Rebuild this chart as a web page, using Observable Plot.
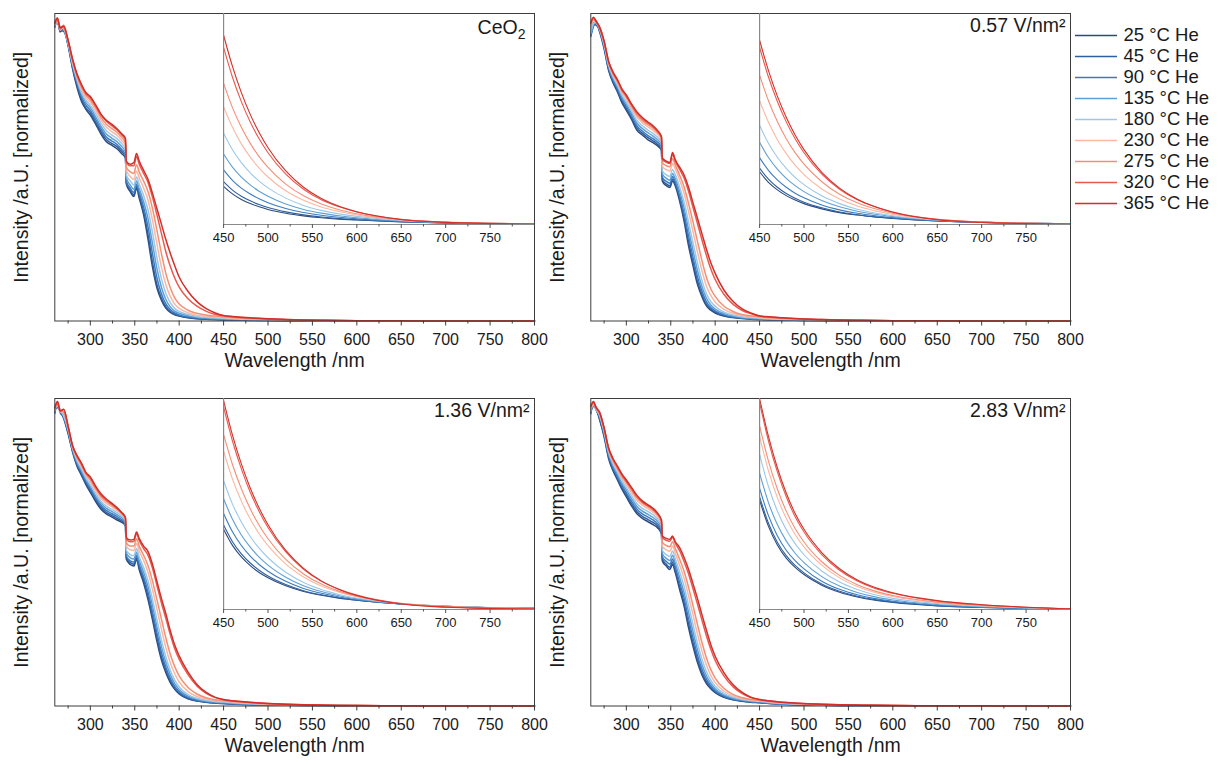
<!DOCTYPE html>
<html><head><meta charset="utf-8">
<script src="https://cdn.jsdelivr.net/npm/d3@7"></script>
<script src="https://cdn.jsdelivr.net/npm/@observablehq/plot@0.6"></script>
<style>
body{margin:0;background:#fff;font-family:"Liberation Sans",Arial,sans-serif;}
#root{position:relative;width:1218px;height:764px;overflow:hidden;background:#fff;}
</style></head><body><div id="root"></div>
<script>
// ---- series ----
const temps = ["25 °C He","45 °C He","90 °C He","135 °C He","180 °C He","230 °C He","275 °C He","320 °C He","365 °C He"];
const colors = ["#2c4a7c","#2e5fa0","#3b7cc0","#5e9fd6","#9cc8ea","#f9b9a3","#f48f76","#e65a4d","#d32f2a"];
// ---- wavelength grids (nm) ----
const wlN = [260,263,266,270,275,280,285,290,295,300,306,312,318,324,330,335,339.5];
const wlS = [340.5,345,349,352,355,360,365,370,375,380,385,390,395,400,410,420,430,440];
const wlT = [450,460,470,480,490,500,520,540,560,580,600,650,700,750,800];
// ---- panels ----
const panelLabels = ["CeO2","0.57 V/nm²","1.36 V/nm²","2.83 V/nm²"];
const insetMax = [2.0,1.9,2.1,2.1];
const mainTicks = [300,350,400,450,500,550,600,650,700,750,800];
const mainMinor = [275,325,375,425,475,525,575,625,675,725,775];
const insetTicks = [450,500,550,600,650,700,750];
const insetMinor = [475,525,575,625,675,725,775];

// intensity [% normalized], rows = temps, each [noise region, edge region, tail]
const ceo2 = [
 [[96.0,97.5,94.0,95.0,89.5,82.0,76.0,71.5,68.8,67.0,64.0,60.8,58.3,57.2,56.0,54.5,53.0],[44.5,42.0,40.5,43.2,40.0,34.5,26.5,17.5,10.7,6.8,4.2,2.8,2.0,1.6,1.05,0.75,0.57,0.45],[.362,.29,.237,.198,.168,.143,.107,.082,.064,.051,.042,.025,.014,.009,.005]],
 [[95.5,97.8,94.5,94.2,90.0,82.5,76.8,72.2,69.3,67.8,64.6,61.6,59.0,57.8,56.7,55.2,53.5],[45.0,42.5,41.0,43.8,40.8,35.5,28.0,19.0,11.8,7.5,4.7,3.1,2.25,1.75,1.15,0.83,0.63,0.5],[.406,.326,.268,.224,.189,.161,.12,.091,.071,.056,.045,.026,.015,.009,.005]],
 [[96.5,97.0,95.2,94.8,89.8,83.0,77.5,73.0,70.2,68.5,65.5,62.4,59.8,58.6,57.4,55.9,54.0],[45.5,43.2,41.8,44.5,41.8,37.0,30.5,21.8,14.0,8.9,5.6,3.7,2.6,2.0,1.35,0.98,0.74,0.63],[.518,.419,.345,.289,.243,.207,.152,.113,.087,.068,.053,.03,.017,.01,.006]],
 [[95.8,98.0,94.8,95.5,90.5,83.3,78.0,73.8,71.0,69.4,66.4,63.3,60.8,59.5,58.3,56.8,55.0],[46.5,44.2,42.8,45.5,43.0,38.8,33.2,25.2,17.0,11.0,7.0,4.6,3.2,2.5,1.7,1.22,0.95,0.8],[.668,.544,.449,.375,.315,.267,.194,.143,.108,.083,.064,.034,.019,.011,.006]],
 [[96.2,97.2,95.5,95.0,90.2,83.8,78.6,74.5,71.8,70.2,67.4,64.3,61.9,60.5,59.3,57.8,56.0],[47.5,45.5,44.2,46.8,44.5,40.8,36.0,28.8,20.5,13.8,9.0,6.0,4.1,3.1,2.1,1.5,1.2,1.03],[.864,.708,.587,.49,.411,.347,.25,.181,.134,.101,.077,.039,.021,.012,.006]],
 [[97.0,98.2,94.6,95.8,91.0,84.2,79.2,75.3,72.6,71.1,68.4,65.3,63.0,61.6,60.4,58.8,57.0],[49.0,47.0,46.0,48.8,46.5,43.2,39.2,32.8,25.0,17.5,11.8,8.0,5.5,4.1,2.7,1.9,1.55,1.33],[1.116,.921,.764,.638,.535,.45,.32,.23,.166,.123,.09,.044,.022,.012,.007]],
 [[96.4,97.6,95.8,95.2,90.6,84.6,79.6,76.0,73.4,71.9,69.3,66.2,64.0,62.6,61.4,59.8,58.0],[50.0,48.5,48.0,50.8,48.5,45.5,42.0,36.5,29.5,22.0,15.5,10.8,7.5,5.5,3.5,2.5,1.95,1.6],[1.338,1.108,.922,.769,.644,.541,.383,.272,.194,.14,.102,.045,.023,.012,.005]],
 [[97.2,98.6,95.0,96.2,91.4,85.0,80.0,76.6,74.0,72.6,70.0,67.0,65.0,63.5,62.2,60.6,59.0],[51.5,50.5,50.5,53.5,51.0,48.0,45.0,40.2,34.5,28.5,22.5,17.8,14.0,11.0,7.2,4.8,3.2,2.2],[1.678,1.396,1.165,.972,.812,.68,.477,.334,.235,.168,.119,.049,.022,.012,.005]],
 [[96.8,98.4,95.4,95.8,91.2,85.2,80.4,77.0,74.3,73.0,70.3,67.3,65.3,64.0,62.5,61.0,59.5],[52.0,51.0,51.5,54.5,52.0,49.0,46.0,41.5,36.5,31.5,26.5,22.0,18.0,14.3,9.6,6.3,4.1,2.7],[1.794,1.498,1.25,1.044,.872,.728,.508,.353,.246,.172,.12,.047,.02,.009,.004]]
];
const v057 = [
 [[93.0,96.0,97.0,94.0,88.5,81.5,77.5,74.5,71.0,68.5,65.5,62.0,60.5,59.0,58.0,57.0,55.5],[45.5,44.0,43.4,45.5,44.0,39.0,32.5,24.5,18.0,12.0,8.0,5.0,3.5,2.6,1.6,1.1,0.8,0.6],[.475,.38,.312,.26,.22,.188,.141,.107,.085,.067,.055,.032,.019,.011,.007]],
 [[93.8,96.5,96.2,94.5,89.0,82.0,78.0,75.0,71.6,69.1,66.1,62.7,61.1,59.7,58.6,57.5,56.0],[46.0,44.6,44.0,46.2,44.6,39.8,33.6,25.8,19.2,13.0,8.7,5.5,3.9,2.9,1.75,1.2,0.86,0.64],[.507,.408,.335,.279,.236,.201,.15,.113,.088,.069,.056,.032,.019,.011,.007]],
 [[92.5,95.8,97.5,94.2,89.4,82.4,78.5,75.6,72.2,69.8,66.8,63.4,61.8,60.4,59.3,58.2,56.6],[46.8,45.4,44.8,47.0,45.4,40.8,35.0,27.6,20.8,14.5,9.8,6.3,4.4,3.3,2.0,1.35,0.97,0.74],[.602,.487,.401,.335,.282,.24,.176,.132,.101,.079,.062,.035,.02,.011,.007]],
 [[94.2,97.0,96.8,94.8,89.7,82.9,79.0,76.2,72.9,70.6,67.5,64.3,62.6,61.3,60.1,59.0,57.4],[47.8,46.4,45.8,48.0,46.4,42.2,36.8,29.8,23.0,16.5,11.3,7.5,5.2,3.9,2.4,1.6,1.15,0.9],[.741,.603,.498,.416,.35,.296,.216,.159,.12,.092,.071,.038,.021,.012,.007]],
 [[93.5,96.6,97.4,95.0,90.0,83.3,79.5,76.8,73.6,71.3,68.3,65.2,63.5,62.2,61.0,59.8,58.2],[48.8,47.5,47.0,49.3,47.6,43.6,38.7,32.2,25.5,19.0,13.3,9.0,6.4,4.8,2.9,1.95,1.4,1.1],[.893,.731,.606,.506,.425,.359,.258,.188,.138,.104,.079,.04,.021,.013,.006]],
 [[95.5,97.8,97.0,95.2,90.4,83.8,80.0,77.4,74.3,72.2,69.2,66.3,64.5,63.2,62.0,60.7,59.0],[50.3,49.2,48.8,51.2,49.5,45.8,41.5,35.6,29.2,22.5,16.5,11.5,8.3,6.2,3.8,2.5,1.75,1.4],[1.115,.92,.764,.638,.534,.449,.32,.23,.166,.123,.09,.043,.022,.012,.007]],
 [[96.0,98.3,97.6,95.0,90.7,84.1,80.4,77.9,74.8,72.8,69.8,67.0,65.2,63.9,62.7,61.3,59.5],[51.5,50.5,50.2,52.8,50.8,47.4,43.6,38.3,32.3,26.0,19.8,14.3,10.5,8.0,4.8,3.1,2.1,1.7],[1.345,1.114,.927,.773,.647,.543,.385,.273,.195,.141,.102,.046,.023,.012,.005]],
 [[96.8,98.5,97.2,95.6,90.9,84.4,80.7,78.2,75.2,73.2,70.2,67.6,65.8,64.4,63.2,61.7,59.8],[52.6,51.6,51.2,54.2,52.0,49.3,46.5,42.2,37.0,31.8,26.5,21.5,17.0,13.5,8.6,5.5,3.5,2.4],[1.596,1.328,1.108,.924,.772,.646,.453,.318,.223,.16,.113,.046,.021,.011,.005]],
 [[97.0,98.8,97.5,95.5,91.0,84.5,81.0,78.5,75.5,73.5,70.5,68.0,66.2,64.8,63.5,62.0,60.0],[53.0,52.0,51.5,54.8,52.5,50.0,47.5,43.5,38.5,33.5,28.5,23.5,19.0,15.5,10.0,6.4,4.0,2.6],[1.659,1.385,1.156,.966,.806,.674,.469,.327,.227,.159,.111,.043,.018,.008,.003]]
];
const v136 = [
 [[96.0,97.5,96.0,93.5,88.5,82.6,78.0,75.0,72.0,69.5,66.5,64.0,62.5,61.5,60.5,59.8,58.6],[47.7,46.0,45.5,47.7,44.4,40.0,34.5,28.0,21.0,15.0,10.8,7.6,5.4,3.9,2.3,1.6,1.2,0.95],[.798,.638,.523,.437,.369,.316,.236,.18,.142,.113,.092,.054,.032,.019,.011]],
 [[95.2,98.2,95.4,94.0,88.9,83.0,78.5,75.5,72.6,70.1,67.1,64.6,63.0,62.0,61.0,60.2,59.0],[48.2,46.6,46.1,48.2,45.2,41.0,35.6,29.2,22.3,16.1,11.6,8.2,5.8,4.2,2.5,1.7,1.28,1.0],[.84,.675,.554,.463,.391,.333,.248,.187,.146,.115,.092,.054,.031,.018,.011]],
 [[96.5,97.0,96.3,93.8,89.3,83.3,78.9,76.0,73.1,70.7,67.7,65.2,63.6,62.6,61.6,60.7,59.4],[48.8,47.2,46.8,49.0,46.0,42.0,37.0,30.6,23.8,17.5,12.7,9.0,6.4,4.7,2.8,1.9,1.42,1.13],[.956,.773,.637,.532,.448,.381,.28,.209,.161,.125,.098,.055,.032,.018,.011]],
 [[95.6,98.5,95.8,94.6,89.6,83.6,79.4,76.6,73.7,71.4,68.4,65.9,64.3,63.3,62.2,61.3,59.9],[49.7,48.2,47.8,50.0,47.3,43.5,38.8,32.6,25.8,19.4,14.2,10.2,7.3,5.4,3.2,2.2,1.62,1.3],[1.103,.898,.741,.62,.521,.441,.321,.236,.179,.137,.106,.056,.031,.018,.01]],
 [[96.8,97.6,96.6,94.3,90.0,83.9,79.9,77.2,74.3,72.1,69.1,66.6,65.0,64.0,62.9,61.9,60.3],[50.6,49.2,48.9,51.2,48.5,45.0,40.6,34.6,28.0,21.5,16.0,11.6,8.4,6.2,3.7,2.5,1.85,1.5],[1.281,1.049,.87,.726,.61,.515,.37,.269,.199,.15,.114,.058,.031,.018,.009]],
 [[96.2,98.8,95.6,95.8,90.4,84.2,80.5,77.8,75.0,73.0,70.0,67.5,65.9,64.8,63.6,62.4,60.8],[52.0,50.8,50.6,52.9,50.5,47.3,43.4,37.8,31.5,25.0,19.0,14.1,10.5,7.8,4.7,3.1,2.3,1.85],[1.575,1.299,1.079,.901,.754,.635,.452,.324,.235,.173,.128,.061,.032,.017,.009]],
 [[97.3,98.2,96.4,95.5,90.6,84.4,80.9,78.3,75.4,73.6,70.7,68.1,66.5,65.3,64.0,62.7,61.0],[53.0,52.0,52.0,54.4,52.0,49.0,45.6,40.6,34.6,28.3,22.2,16.8,12.8,9.8,6.0,3.9,2.7,2.05],[1.743,1.443,1.201,1.002,.838,.704,.498,.354,.253,.183,.132,.059,.03,.016,.007]],
 [[96.6,99.0,95.8,96.4,90.9,84.6,81.2,78.7,75.8,74.1,71.1,68.6,67.0,65.7,64.3,62.9,61.2],[54.2,53.4,53.6,56.0,53.8,51.2,49.0,44.8,39.2,33.6,28.5,23.2,18.6,15.2,10.2,6.5,4.2,2.8],[2.016,1.677,1.399,1.167,.976,.816,.573,.401,.282,.202,.143,.058,.026,.014,.006]],
 [[97.0,99.0,96.0,96.5,91.0,84.7,81.5,79.0,76.0,74.5,71.5,69.0,67.3,66.0,64.5,63.0,61.3],[54.8,54.0,54.2,56.6,54.5,52.0,50.2,46.0,40.5,35.0,30.0,24.5,19.8,16.3,11.0,7.0,4.5,2.9],[2.079,1.736,1.449,1.21,1.01,.844,.588,.41,.285,.2,.139,.054,.023,.01,.004]]
];
const v283 = [
 [[95.5,98.0,96.5,93.0,87.5,80.5,76.5,73.5,70.5,68.0,65.0,62.5,61.0,60.0,59.0,58.0,56.0],[47.2,45.5,44.4,46.0,43.5,37.9,32.5,25.5,19.5,14.2,10.2,7.4,5.6,4.3,2.8,2.0,1.55,1.25],[1.088,.827,.642,.511,.419,.348,.242,.172,.125,.092,.07,.036,.02,.011,.005]],
 [[96.2,97.4,97.0,93.4,88.0,81.1,77.0,74.1,71.1,68.7,65.7,63.2,61.7,60.7,59.7,58.6,56.6],[47.8,46.1,45.1,46.8,44.3,38.9,33.6,26.8,20.7,15.2,11.0,8.0,6.0,4.6,3.0,2.1,1.62,1.3],[1.121,.859,.67,.536,.439,.365,.254,.182,.132,.098,.074,.038,.021,.011,.006]],
 [[95.0,98.3,96.2,93.9,88.4,81.6,77.6,74.7,71.8,69.4,66.5,64.0,62.5,61.5,60.5,59.3,57.3],[48.5,47.0,46.1,47.8,45.3,40.2,35.1,28.4,22.3,16.6,12.1,8.8,6.6,5.0,3.25,2.3,1.75,1.42],[1.205,.934,.735,.59,.486,.404,.282,.201,.146,.108,.082,.042,.023,.012,.006]],
 [[96.8,97.6,96.9,94.2,88.9,82.2,78.2,75.4,72.5,70.3,67.4,64.9,63.4,62.4,61.3,60.1,58.0],[49.5,48.0,47.3,49.0,46.6,41.8,36.9,30.5,24.3,18.4,13.6,9.9,7.4,5.6,3.6,2.55,1.95,1.58],[1.357,1.064,.845,.683,.56,.467,.327,.233,.17,.126,.095,.05,.027,.014,.005]],
 [[95.8,98.6,96.4,94.6,89.3,82.7,78.8,76.1,73.3,71.1,68.3,65.8,64.3,63.3,62.2,60.9,58.8],[50.6,49.2,48.6,50.4,48.0,43.6,38.9,32.8,26.6,20.5,15.4,11.3,8.5,6.4,4.1,2.9,2.2,1.78],[1.544,1.224,.98,.795,.655,.545,.383,.273,.199,.147,.111,.059,.032,.017,.006]],
 [[97.0,98.0,97.3,94.8,89.7,83.2,79.4,76.8,74.1,72.0,69.3,66.8,65.3,64.2,63.0,61.7,59.5],[52.0,50.8,50.3,52.0,49.8,45.8,41.5,35.8,29.7,23.5,18.0,13.4,10.0,7.6,4.8,3.3,2.45,1.98],[1.722,1.381,1.114,.908,.747,.623,.441,.315,.229,.169,.129,.067,.038,.019,.007]],
 [[96.4,98.9,96.6,95.3,90.0,83.5,79.9,77.3,74.7,72.7,70.1,67.6,66.0,64.9,63.6,62.2,60.0],[53.2,52.2,51.8,53.4,51.3,47.7,43.8,38.6,32.7,26.6,20.8,15.8,11.9,9.1,5.7,3.8,2.75,2.1],[1.827,1.476,1.199,.979,.806,.672,.475,.34,.247,.183,.139,.073,.04,.02,.005]],
 [[97.6,98.6,97.2,95.2,90.3,83.8,80.2,77.7,75.1,73.1,70.6,68.1,66.4,65.2,64.0,62.5,60.3],[54.8,53.9,53.6,54.9,53.0,50.5,47.0,43.0,38.2,33.2,28.0,23.0,18.5,14.8,9.7,6.3,4.1,2.75],[2.058,1.677,1.369,1.122,.924,.772,.547,.391,.284,.21,.161,.084,.047,.023,.006]],
 [[97.5,99.0,97.0,95.5,90.5,84.0,80.5,78.0,75.5,73.5,71.0,68.5,66.7,65.5,64.3,62.8,60.5],[55.3,54.5,54.2,55.3,53.5,51.5,48.3,44.5,39.8,35.0,29.8,24.8,20.0,16.2,10.8,7.0,4.5,2.9],[2.1,1.722,1.411,1.159,.956,.798,.567,.405,.294,.218,.166,.088,.048,.023,.006]]
];

// ---- build ----
const wl = [...wlN, ...wlS, ...wlT];
const panelsData = [ceo2, v057, v136, v283];
function toRecords(rows) {
  const out = [];
  rows.forEach((parts, i) => {
    const vals = parts.flat();
    if (vals.length !== wl.length) throw new Error("row length " + vals.length + " for " + temps[i]);
    vals.forEach((v, j) => out.push({w: wl[j], v, s: temps[i]}));
  });
  return out;
}

const root = document.getElementById("root");
const FONT = "'Liberation Sans', Arial, Helvetica, sans-serif";
const W = 545, H = 380, mL = 54.3, mR = 11, mT = 13, mB = 59.5;
const insetBottomY = 224;
const insetLeft = mL + (450 - 260) / (800 - 260) * (W - mL - mR);
const svgStyle = {background: "transparent", overflow: "visible", fontFamily: FONT, color: "#1a1a1a"};
const colorScale = {domain: temps, range: colors};

function place(el, left, top) {
  el.style.position = "absolute";
  el.style.left = left + "px";
  el.style.top = top + "px";
  root.appendChild(el);
}

function drawPanel(p, left, top) {
  const data = toRecords(panelsData[p]);
  const main = Plot.plot({
    width: W, height: H, marginLeft: mL, marginRight: mR, marginTop: mT, marginBottom: mB,
    style: {...svgStyle, fontSize: "16px"},
    x: {domain: [260, 800]},
    y: {domain: [0, 100], axis: null},
    color: colorScale,
    marks: [
      Plot.line(data, {x: "w", y: "v", z: "s", stroke: "s", strokeWidth: 1.5, curve: "monotone-x"}),
      Plot.frame({stroke: "#3d3d3d", strokeWidth: 1}),
      Plot.axisX(mainTicks, {tickSize: 5, tickPadding: 8, fontSize: 16, label: null, stroke: "#3d3d3d", fill: "#1a1a1a"}),
      Plot.axisX(mainMinor, {tickSize: 3, tickFormat: () => "", label: null, stroke: "#3d3d3d"}),
      Plot.text(["Wavelength /nm"], {frameAnchor: "bottom", dy: 46, fontSize: 19.5, fill: "#1a1a1a"}),
      Plot.text(["Intensity /a.U. [normalized]"], {frameAnchor: "left", dx: -33, rotate: -90, textAnchor: "middle", lineAnchor: "middle", fontSize: 19.5, fill: "#1a1a1a"}),
      Plot.text([panelLabels[p]], {frameAnchor: "top-right", dx: p === 0 ? -9 : -5, dy: p === 0 ? 14 : 12, textAnchor: "end", lineAnchor: "middle", fontSize: 19.5, fill: "#1a1a1a"})
    ]
  });
  place(main, left, top);
  if (panelLabels[p] === "CeO2") {
    d3.select(main).selectAll("text").filter(function() { return this.textContent === "CeO2"; })
      .each(function() {
        const t = d3.select(this);
        t.text("CeO");
        t.append("tspan").attr("dy", "0.4em").attr("font-size", "14px").text("2");
      });
  }
  const inset = Plot.plot({
    width: W, height: H, marginLeft: insetLeft, marginRight: mR, marginTop: mT, marginBottom: H - insetBottomY,
    style: {...svgStyle, fontSize: "13px"},
    x: {domain: [450, 800]},
    y: {domain: [0, insetMax[p]], axis: null},
    color: colorScale,
    marks: [
      Plot.line(data.filter(d => d.w >= 450), {x: "w", y: "v", z: "s", stroke: "s", strokeWidth: 1.1, curve: "monotone-x", clip: true}),
      Plot.ruleX([450], {stroke: "#8a8a8a", strokeWidth: 1.2}),
      Plot.ruleY([0], {stroke: "#8a8a8a", strokeWidth: 1.2}),
      Plot.axisX(insetTicks, {tickSize: 4, tickPadding: 4, fontSize: 13, label: null, stroke: "#555", fill: "#1a1a1a"}),
      Plot.axisX(insetMinor, {tickSize: 2.5, tickFormat: () => "", label: null, stroke: "#555"})
    ]
  });
  place(inset, left, top);
}

drawPanel(0, 0, 0);
drawPanel(1, 536, 0);
drawPanel(2, 0, 385);
drawPanel(3, 536, 385);

// legend
const legend = Plot.plot({
  width: 146, height: 240, margin: 0,
  style: {...svgStyle, fontSize: "18.5px"},
  x: {domain: [0, 146], range: [0, 146], axis: null},
  y: {type: "point", domain: temps, range: [24, 214.3], axis: null},
  color: colorScale,
  marks: [
    Plot.ruleY(temps, {y: d => d, x1: 3, x2: 45, stroke: d => d, strokeWidth: 1.6}),
    Plot.text(temps, {y: d => d, x: 51, text: d => d, textAnchor: "start", fontSize: 18.5, fill: "#1a1a1a"})
  ]
});
place(legend, 1072, 0);
</script>
</body></html>
